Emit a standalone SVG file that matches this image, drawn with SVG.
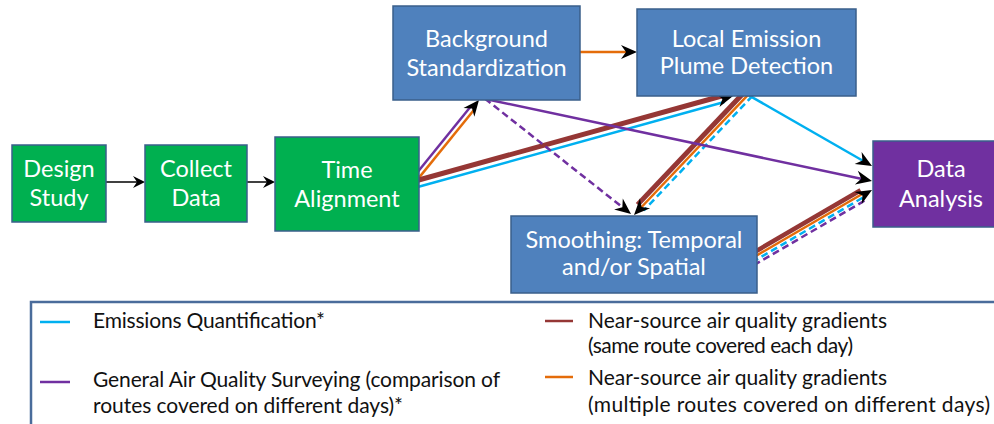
<svg xmlns="http://www.w3.org/2000/svg" width="994" height="424" viewBox="0 0 994 424">
<defs>
<style>
.node{stroke:#3A5F8B;stroke-width:1.5}
.g{fill:#00B050}.b{fill:#4F81BD}.p{fill:#7030A0}
.nt{font-family:Lato,"Liberation Sans",sans-serif;font-size:23.5px;fill:#fff;text-anchor:middle}
.lt{font-family:Lato,"Liberation Sans",sans-serif;font-size:21px;fill:#111}
.cy{stroke:#00B0F0;stroke-width:2.5;fill:none}
.pu{stroke:#7030A0;stroke-width:2.5;fill:none}
.br{stroke:#953735;stroke-width:5;fill:none}
.or{stroke:#E46C0A;stroke-width:2.5;fill:none}
.bk{stroke:#000;stroke-width:1.5;fill:none}
.d{stroke-dasharray:7 4}
.ah{fill:#000}
</style>
<path id="ah" d="M0,0 L-16,-7 L-11,0 L-16,7 Z"/>
<path id="sah" d="M0,0 L-12,-6 L-8,0 L-12,6 Z"/>
</defs>
<rect width="994" height="424" fill="#fff"/>
<g id="connectors">
  <g transform="translate(145,182)"><line class="bk" x1="-39" y1="0" x2="-8" y2="0"/><use href="#sah" class="ah"/></g>
  <g transform="translate(275,182)"><line class="bk" x1="-28" y1="0" x2="-8" y2="0"/><use href="#sah" class="ah"/></g>
  <g transform="translate(479,100) rotate(-50.96)">
    <line class="pu" x1="-100" y1="-2.3" x2="-10" y2="-2.3"/>
    <line class="or" x1="-100" y1="2.3" x2="-10" y2="2.3"/>
    <use href="#ah" class="ah"/>
  </g>
  <g transform="translate(733,96) rotate(-15.49)">
    <line class="br" x1="-330" y1="-3" x2="-10" y2="-3"/>
    <line class="cy" x1="-330" y1="3.5" x2="-10" y2="3.5"/>
    <use href="#ah" class="ah"/>
  </g>
  <g transform="translate(631,214) rotate(38.3)">
    <line class="pu d" x1="-186" y1="0" x2="-10" y2="0"/>
    <use href="#ah" class="ah"/>
  </g>
  <g transform="translate(634,215) rotate(133.5)">
    <line class="br" x1="-168" y1="4.5" x2="-10" y2="4.5"/>
    <line class="or" x1="-168" y1="0" x2="-10" y2="0"/>
    <line class="cy d" x1="-168" y1="-4" x2="-10" y2="-4"/>
    <use href="#ah" class="ah"/>
  </g>
  <g transform="translate(872,181) rotate(11.97)">
    <line class="pu" x1="-394" y1="0" x2="-10" y2="0"/>
    <use href="#ah" class="ah"/>
  </g>
  <g transform="translate(637,52)">
    <line class="or" x1="-60" y1="0" x2="-10" y2="0"/>
    <use href="#ah" class="ah"/>
  </g>
  <g transform="translate(872,166) rotate(29.85)">
    <line class="cy" x1="-144" y1="0" x2="-10" y2="0"/>
    <use href="#ah" class="ah"/>
  </g>
  <g transform="translate(872,190) rotate(-30.22)">
    <line class="br" x1="-140" y1="-5.5" x2="-10" y2="-5.5" style="stroke-width:4.5"/>
    <line class="or" x1="-140" y1="-1.5" x2="-10" y2="-1.5"/>
    <line class="cy d" x1="-140" y1="2" x2="-10" y2="2"/>
    <line class="pu d" x1="-140" y1="5.5" x2="-10" y2="5.5"/>
    <use href="#ah" class="ah"/>
  </g>
</g>
<g id="design-study">
  <rect class="node g" x="12" y="145" width="94" height="77"/>
  <text class="nt" x="59" y="177">Design</text>
  <text class="nt" x="59" y="206">Study</text>
</g>
<g id="collect-data">
  <rect class="node g" x="145" y="145" width="102" height="77"/>
  <text class="nt" x="196" y="177">Collect</text>
  <text class="nt" x="196" y="206">Data</text>
</g>
<g id="time-alignment">
  <rect class="node g" x="275" y="137" width="144" height="94"/>
  <text class="nt" x="347" y="178">Time</text>
  <text class="nt" x="347" y="207">Alignment</text>
</g>
<g id="background-standardization">
  <rect class="node b" x="393" y="6" width="187" height="94"/>
  <text class="nt" x="486.5" y="47">Background</text>
  <text class="nt" x="486.5" y="76">Standardization</text>
</g>
<g id="local-emission">
  <rect class="node b" x="637" y="9" width="219" height="87"/>
  <text class="nt" x="746.5" y="47">Local Emission</text>
  <text class="nt" x="746.5" y="74">Plume Detection</text>
</g>
<g id="smoothing">
  <rect class="node b" x="511" y="216" width="246" height="77"/>
  <text class="nt" x="634" y="248">Smoothing: Temporal</text>
  <text class="nt" x="634" y="275">and/or Spatial</text>
</g>
<g id="data-analysis">
  <rect class="node p" x="873" y="141" width="136" height="86"/>
  <text class="nt" x="941" y="177">Data</text>
  <text class="nt" x="941" y="207">Analysis</text>
</g>
<g id="legend">
  <rect x="31" y="302" width="990" height="140" fill="none" stroke="#4A6C9B" stroke-width="2.5"/>
  <line class="cy" x1="40" y1="322" x2="70" y2="322"/>
  <text class="lt" x="93" y="328" textLength="232">Emissions Quantification*</text>
  <line class="pu" x1="40" y1="382" x2="70" y2="382"/>
  <text class="lt" x="93" y="387" textLength="407">General Air Quality Surveying (comparison of</text>
  <text class="lt" x="93" y="413" textLength="310">routes covered on different days)*</text>
  <line stroke="#953735" stroke-width="2.5" x1="545" y1="321" x2="573" y2="321"/>
  <text class="lt" x="588" y="328" textLength="299">Near-source air quality gradients</text>
  <text class="lt" x="588" y="353" textLength="265">(same route covered each day)</text>
  <line class="or" x1="545" y1="377" x2="573" y2="377"/>
  <text class="lt" x="588" y="385" textLength="299">Near-source air quality gradients</text>
  <text class="lt" x="588" y="412" textLength="402">(multiple routes covered on different days)</text>
</g>
</svg>
